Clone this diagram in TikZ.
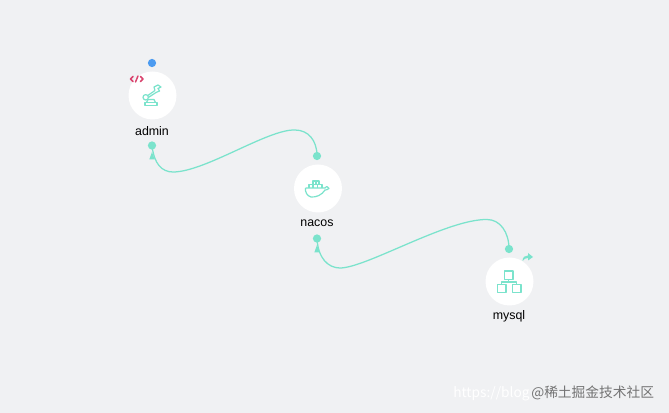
\documentclass[tikz,border=0pt]{standalone}
\usepackage{fontspec}
\setmainfont{Liberation Sans}
\newfontfamily\cjk{Noto Sans CJK SC}
\usetikzlibrary{arrows.meta}
\definecolor{bgc}{HTML}{F0F1F3}
\definecolor{teal}{HTML}{7BE3CC}
\definecolor{bluedot}{HTML}{4C9BF0}
\definecolor{redtag}{HTML}{D9446E}
\tikzset{
  x=0.75pt,y=-0.75pt,
  disc/.style={circle,fill=white,draw=none,minimum size=36pt,inner sep=0pt},
  port/.style={circle,fill=teal,draw=none,minimum size=6.2pt,inner sep=0pt},
  bluep/.style={circle,fill=bluedot,draw=none,minimum size=6.2pt,inner sep=0pt},
  lab/.style={font=\fontsize{9.3pt}{11pt}\selectfont,text=black,inner sep=0pt},
  link/.style={draw=teal,line width=0.95pt},
  ico/.style={draw=teal,line width=0.9pt,fill=none,line join=round},
  wm/.style={font=\cjk\fontsize{10.3pt}{12pt}\selectfont,anchor=west,inner sep=0pt}
}
\begin{document}
\begin{tikzpicture}
\useasboundingbox[fill=bgc] (0,0) rectangle (669,413);
% discs
\node[disc] (admin) at (152.5,95.5) {};
\node[disc] (nacos) at (318,188.5) {};
\node[disc] (mysql) at (509.5,281.5) {};
% labels
\node[lab] (adminl) at (152,131) {admin};
\node[lab] (nacosl) at (317,223.5) {nacos};
\node[lab] (mysqll) at (509,316) {mysql};
% ports
\node[bluep] (ablue) at (152,63) {};
\node[port] (ain) at (152,145.5) {};
\node[port] (nout) at (317,156) {};
\node[port] (nin) at (317,238.5) {};
\node[port] (mout) at (509,249) {};
% links
\draw[link] (nout.center) .. controls (317,140) and (308,130) .. (295,130)
  .. controls (268,129) and (205,172) .. (173,172)
  .. controls (162,172) and (154,164) .. (ain.center);
\fill[teal] (152,152) -- (149.3,159.5) -- (154.7,159.5) -- cycle;
\draw[link] (mout.center) .. controls (509,232) and (500,219.5) .. (487,219.5)
  .. controls (447,219) and (366,268) .. (340,268)
  .. controls (328,268) and (318,258) .. (nin.center);
\fill[teal] (317,245) -- (314.3,252.5) -- (319.7,252.5) -- cycle;
% admin icon: robot arm
\begin{scope}[ico]
\draw (145,102.5) rectangle (157,105.5);
\draw (146.5,102.5) -- (148,99.5) -- (154,99.5) -- (155.5,102.5);
\draw (145.7,97.3) circle (2.7);
\draw (147.8,95.5) -- (155,90.5) (148.7,97.3) -- (156,92.5);
\draw (155,90.5) -- (154,87) -- (158,85) -- (161,87) -- (158,88.5) -- (159.5,91) -- (156,92.5);
\end{scope}
% red code tag
\begin{scope}[draw=redtag,line width=1.1pt,line cap=round,line join=round]
\draw (133,76.5) -- (130.5,79) -- (133,81.5);
\draw (140.5,76.5) -- (143,79) -- (140.5,81.5);
\draw (138,76) -- (135.5,82);
\end{scope}
% nacos icon: whale
\begin{scope}[ico]
\draw (305.5,188) -- (325,188) .. controls (326,186) and (327,186) .. (329,188.5)
  .. controls (327,190) and (326,190) .. (325,190)
  .. controls (322,195) and (316,197.5) .. (311,197)
  .. controls (307,196) and (305,192) .. (305.5,188);
\draw (309,188) -- (309,184.5) -- (322,184.5) -- (322,188);
\draw (313,184.5) -- (313,181) -- (319,181) -- (319,184.5);
\draw (313,184.5) -- (313,188) (317.5,184.5) -- (317.5,188) (316,181) -- (316,184.5);
\end{scope}
% mysql icon: hierarchy
\begin{scope}[ico]
\draw (504.5,271) rectangle (513,279.5);
\draw (497.5,284.5) rectangle (506,292.5);
\draw (512.5,284.5) rectangle (521,292.5);
\draw (508.7,279.5) -- (508.7,282) (501.7,284.5) -- (501.7,282) -- (516.7,282) -- (516.7,284.5);
\end{scope}
% share arrow
\fill[teal] (522.5,261) .. controls (522.5,257) and (525,255.5) .. (528,255.5)
  -- (528,253) -- (533,257) -- (528,260.5) -- (528,258)
  .. controls (525.5,258) and (524,259) .. (522.5,261) -- cycle;
% watermark
\node[wm,text=white] (wm1) at (453,393.5) {https://blog};
\node[wm,text=black!55] (wm3) at (531,393) {@稀土掘金技术社区};
\end{tikzpicture}
\end{document}
